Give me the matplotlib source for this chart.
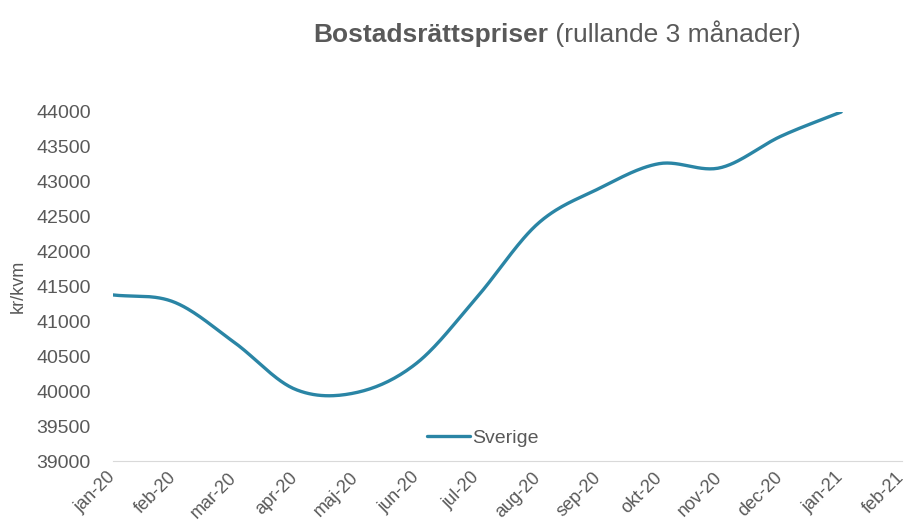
import numpy as np
import matplotlib
matplotlib.use('Agg')
import matplotlib.pyplot as plt

# monthly values, kr/kvm
months = ['jan-20', 'feb-20', 'mar-20', 'apr-20', 'maj-20', 'jun-20', 'jul-20',
          'aug-20', 'sep-20', 'okt-20', 'nov-20', 'dec-20', 'jan-21', 'feb-21']
sverige = [41380, 41280, 40700, 40030, 39980, 40400, 41350,
           42400, 42900, 43260, 43200, 43650, 44000]

plt.rcParams['font.family'] = ['Liberation Sans', 'DejaVu Sans']
grey = '#595959'
line_col = '#2a85a5'


def smooth(y, steps=30):
    # Catmull-Rom, like Excel's "smoothed line"
    p = np.concatenate([[2 * y[0] - y[1]], y, [2 * y[-1] - y[-2]]])
    xs, ys = [], []
    t = np.linspace(0, 1, steps, endpoint=False)
    for i in range(1, len(p) - 2):
        p0, p1, p2, p3 = p[i - 1], p[i], p[i + 1], p[i + 2]
        v = 0.5 * ((2 * p1) + (-p0 + p2) * t + (2 * p0 - 5 * p1 + 4 * p2 - p3) * t ** 2
                   + (-p0 + 3 * p1 - 3 * p2 + p3) * t ** 3)
        xs.extend(i - 1 + t)
        ys.extend(v)
    xs.append(len(y) - 1)
    ys.append(y[-1])
    return np.array(xs), np.array(ys)


fig = plt.figure(figsize=(9.11, 5.27), dpi=100)
ax = fig.add_axes([0.124, 0.125, 0.866, 0.6625])

xs, ys = smooth(np.array(sverige, dtype=float))
ax.plot(xs, ys, color=line_col, lw=2.4, label='Sverige', solid_capstyle='round')

ax.set_xlim(0, len(months) - 1)
ax.set_ylim(39000, 44000)
ax.set_yticks(np.arange(39000, 44001, 500))
ax.set_xticks(range(len(months)))
ax.set_xticklabels(months, rotation=45, ha='right', va='center', rotation_mode='anchor')

for s in ['top', 'right', 'left']:
    ax.spines[s].set_visible(False)
ax.spines['bottom'].set_color('#d9d9d9')
ax.tick_params(axis='y', length=0, pad=16, labelsize=14, labelcolor=grey)
ax.tick_params(axis='x', length=0, pad=10, labelsize=13, labelcolor=grey)
ax.set_ylabel('kr/kvm', fontsize=13, color=grey, labelpad=7)

ax.legend(loc='center', bbox_to_anchor=(0.469, 0.066), frameon=False, fontsize=14,
          handlelength=2.2, handletextpad=0.1, labelcolor=grey)

# title: bold part + normal part on one baseline
ty = 1 - 42 / 527
t1 = fig.text(313 / 911, ty, 'Bostadsrättspriser', fontsize=19, fontweight='bold',
              color=grey, ha='left', va='baseline')
fig.canvas.draw()
bb = t1.get_window_extent(fig.canvas.get_renderer())
fig.text(bb.x1 / fig.bbox.width, ty, ' (rullande 3 månader)', fontsize=19,
         color=grey, ha='left', va='baseline')

fig.savefig('out.png', dpi=100)
